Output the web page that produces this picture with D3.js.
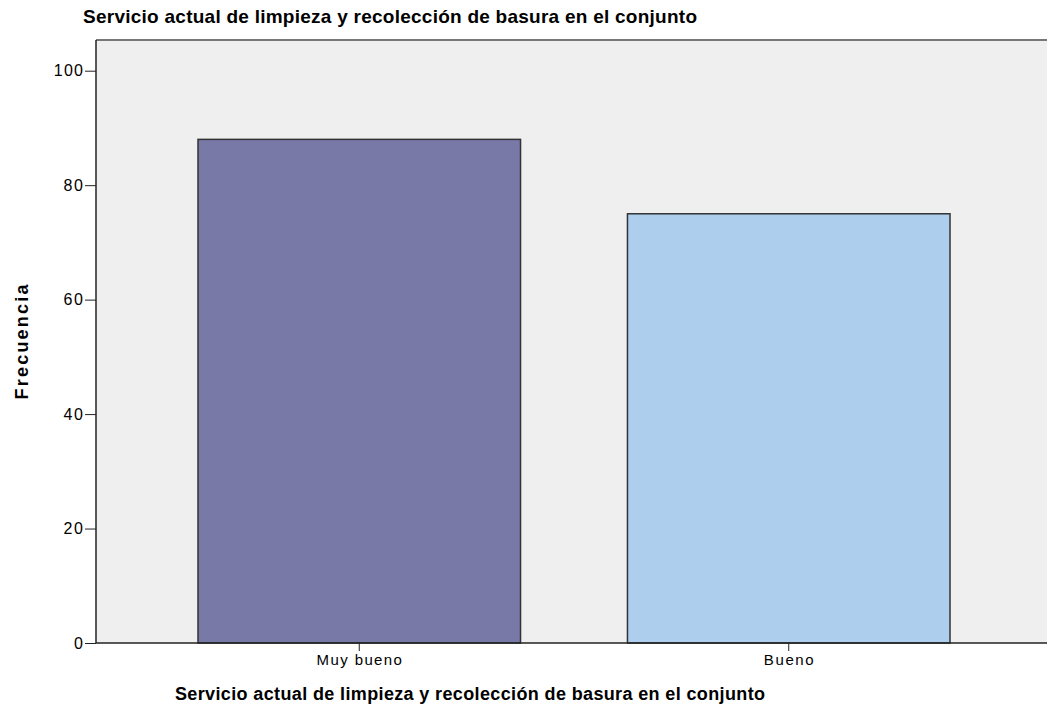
<!DOCTYPE html>
<html>
<head>
  <meta charset="utf-8">
  <title>Servicio actual de limpieza</title>
  <script src="https://d3js.org/d3.v7.min.js"></script>
  <style>
  body { margin: 0; background: #ffffff; }
  text { font-family: "Liberation Sans", Arial, sans-serif; fill: #000; }
  .axis path, .axis line { stroke: #222; }
  </style>
</head>
<body>
  <div id="chart"></div>
  <script>

    var categories = ["Muy bueno", "Bueno"];
    var frecuencia = [88, 75];
    var yTicks = [0, 20, 40, 60, 80, 100];
    var titulo = "Servicio actual de limpieza y recolección de basura en el conjunto";
    var colores = ["#7879a6", "#adcfed"];

    var width = 1047, height = 713;
    var plot = {left: 96, top: 40, bottom: 643, right: 1052};

    var svg = d3.select("#chart").append("svg")
      .attr("width", width).attr("height", height);

    var x = d3.scaleBand().domain(categories)
      .range([plot.left, plot.right]).paddingInner(0.249).paddingOuter(0.2375);
    var y = d3.scaleLinear().domain([0, 100])
      .range([plot.bottom, 70.7]);

    // the source picture was scaled up, text looks wider than normal Arial
    function widen(sel, factor) {
      sel.each(function(){
        var w = this.getComputedTextLength();
        d3.select(this).attr("textLength", w * factor).attr("lengthAdjust", "spacing");
      });
    }

    // plot background
    svg.append("rect")
      .attr("x", plot.left).attr("y", plot.top)
      .attr("width", width - plot.left).attr("height", plot.bottom - plot.top)
      .attr("fill", "#efefef");
    svg.append("line") // top frame
      .attr("x1", plot.left).attr("x2", width)
      .attr("y1", plot.top).attr("y2", plot.top)
      .attr("stroke", "#777").attr("stroke-width", 2);

    // bars
    svg.selectAll("rect.bar").data(frecuencia).enter().append("rect")
      .attr("class", "bar")
      .attr("x", function(d, i){ return x(categories[i]); })
      .attr("width", x.bandwidth())
      .attr("y", function(d){ return y(d); })
      .attr("height", function(d){ return y(0) - y(d); })
      .attr("fill", function(d, i){ return colores[i]; })
      .attr("stroke", "#333").attr("stroke-width", 1.5);

    // axes
    var yAxis = svg.append("g").attr("class", "axis")
      .attr("transform", "translate(" + plot.left + ",0)")
      .call(d3.axisLeft(y).tickValues(yTicks).tickSize(11).tickPadding(2).tickSizeOuter(0));
    yAxis.select(".domain").attr("d", "M0," + plot.top + "V" + plot.bottom).attr("stroke-width", 1.5);
    yAxis.selectAll("text").style("font-size", "16px").call(widen, 1.1);

    var xAxis = svg.append("g").attr("class", "axis")
      .attr("transform", "translate(0," + plot.bottom + ")")
      .call(d3.axisBottom(x).tickSize(8).tickPadding(3).tickSizeOuter(0));
    xAxis.select(".domain").attr("d", "M" + plot.left + ",0H" + width).attr("stroke-width", 1.5);
    xAxis.selectAll("text").style("font-size", "15px").call(widen, 1.15);

    // titles
    svg.append("text")
      .attr("x", 83).attr("y", 23)
      .style("font-size", "19px").style("font-weight", "bold")
      .attr("textLength", 614).attr("lengthAdjust", "spacing")
      .text(titulo);

    svg.append("text")
      .attr("x", 470).attr("y", 700).attr("text-anchor", "middle")
      .style("font-size", "18px").style("font-weight", "bold")
      .attr("textLength", 590).attr("lengthAdjust", "spacing")
      .text(titulo);

    svg.append("text")
      .attr("transform", "translate(28,342) rotate(-90)")
      .attr("text-anchor", "middle")
      .style("font-size", "18px").style("font-weight", "bold")
      .attr("textLength", 115).attr("lengthAdjust", "spacing")
      .text("Frecuencia");

  </script>
</body>
</html>
